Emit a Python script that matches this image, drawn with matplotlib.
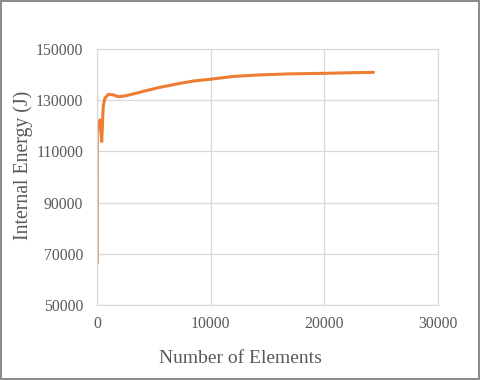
import numpy as np
import matplotlib.pyplot as plt

# values
elements = [20, 30, 150, 260, 420, 550, 700, 1000, 1430, 1870, 2500, 3500, 4370, 5500,
            7330, 8500, 9970, 12000, 14350, 17000, 19940, 22000, 24340]
energy = [66500, 118400, 121500, 122300, 113900, 127500, 130800, 132300, 132100, 131400,
          131700, 132800, 133800, 135000, 136600, 137500, 138200, 139300, 139900, 140300,
          140500, 140700, 140900]

plt.rcParams['font.family'] = ['Liberation Serif', 'DejaVu Serif']

fig = plt.figure(figsize=(4.8, 3.8), dpi=100)
fig.patch.set_edgecolor('#8c8c8c')
fig.patch.set_linewidth(1.5)
ax = fig.add_axes([0.202, 0.197, 0.71, 0.674])

ax.plot(elements, energy, color='#ED7D31', linewidth=2.2,
        solid_joinstyle='round', solid_capstyle='round')

ax.set_xlim(0, 30000)
ax.set_ylim(50000, 150000)
ax.set_xticks([0, 10000, 20000, 30000])
ax.set_yticks([50000, 70000, 90000, 110000, 130000, 150000])
ax.grid(True, color='#d9d9d9', linewidth=0.9)
ax.set_axisbelow(True)
for s in ax.spines.values():
    s.set_color('#d9d9d9')
    s.set_linewidth(0.9)
ax.tick_params(length=0, labelsize=11.3, labelcolor='#595959')
ax.tick_params(axis='y', pad=10)
ax.tick_params(axis='x', pad=8)

ax.set_xlabel('Number of Elements', fontsize=14, color='#595959', va='center')
ax.set_ylabel('Internal Energy (J)', fontsize=14.2, color='#595959', va='center')
ax.xaxis.set_label_coords(0.422, -0.207)
ax.yaxis.set_label_coords(-0.217, 0.547)

fig.savefig('out.png', dpi=100, edgecolor=fig.get_edgecolor())
